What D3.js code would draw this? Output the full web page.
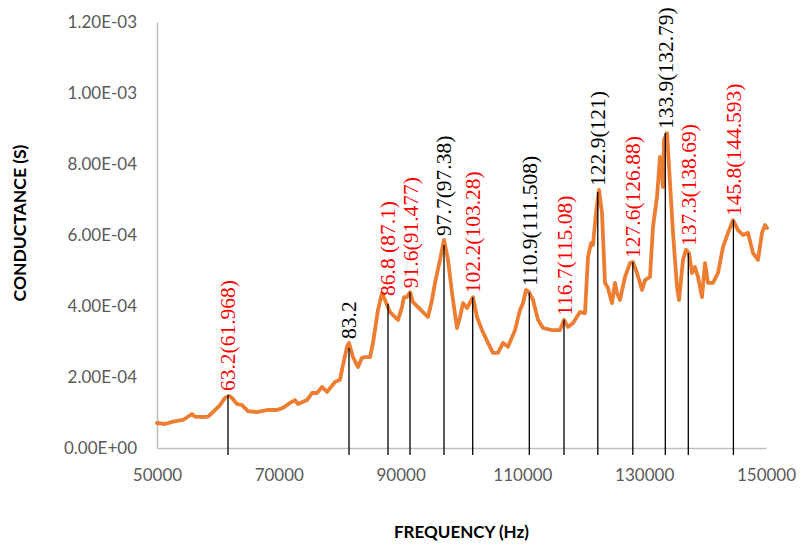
<!DOCTYPE html>
<html>
<head>
<meta charset="utf-8">
<script src="https://cdnjs.cloudflare.com/ajax/libs/d3/7.8.5/d3.min.js"></script>
<style>
  html, body { margin: 0; padding: 0; background: #fff; }
  svg { display: block; }
</style>
</head>
<body>
<svg id="chart" width="801" height="547"></svg>
<script>
// ---- data ----
const freq = [50000,51314,52627,54269,55747,56240,57553,58374,59031,60345,61166,61822,62315,63136,63957,64943,66420,68062,69704,70690,71839,72660,73153,74631,75452,76273,77094,77915,79228,80049,80542,81199,81527,82184,83005,83662,84154,84975,85468,86289,86945,87438,88259,89573,90230,90558,91051,91544,92036,92857,93678,94499,95156,95649,96470,97126,97783,98440,99261,99754,100246,100903,101888,102545,103366,104351,105172,105993,106814,107635,108785,109606,110099,110591,111084,111741,112562,113383,114860,116174,116831,117488,118309,119458,120279,120772,121264,121593,122085,122578,123071,123563,124056,124713,125205,125534,126026,126847,127668,128161,128818,129639,130131,130952,131445,132102,132594,133087,133251,133744,134236,134729,135386,135714,136371,136864,137356,137849,138342,138834,139491,139984,140476,141297,142118,142939,143760,144581,145402,146223,147044,147865,148686,149343,149836,150164];
const conductance = [7.04e-5,6.76e-5,7.41e-5,7.89e-5,9.58e-5,8.82e-5,8.73e-5,8.82e-5,9.86e-5,1.21e-4,1.41e-4,1.47e-4,1.41e-4,1.24e-4,1.21e-4,1.04e-4,1.01e-4,1.07e-4,1.07e-4,1.13e-4,1.27e-4,1.35e-4,1.24e-4,1.35e-4,1.55e-4,1.55e-4,1.72e-4,1.58e-4,1.86e-4,1.92e-4,2.34e-4,2.85e-4,2.96e-4,2.56e-4,2.28e-4,2.54e-4,2.56e-4,2.56e-4,2.96e-4,3.89e-4,4.37e-4,4.17e-4,3.83e-4,3.61e-4,3.97e-4,4.25e-4,4.25e-4,4.39e-4,4.11e-4,3.97e-4,3.83e-4,3.69e-4,4.17e-4,4.65e-4,5.30e-4,5.86e-4,5.30e-4,4.37e-4,3.38e-4,3.69e-4,4.08e-4,3.94e-4,4.25e-4,3.69e-4,3.32e-4,2.96e-4,2.68e-4,2.68e-4,2.96e-4,2.85e-4,3.32e-4,3.89e-4,4.08e-4,4.45e-4,4.39e-4,4.17e-4,3.61e-4,3.38e-4,3.32e-4,3.32e-4,3.61e-4,3.41e-4,3.52e-4,3.83e-4,3.80e-4,5.38e-4,5.77e-4,5.72e-4,6.62e-4,7.27e-4,6.62e-4,4.65e-4,4.51e-4,4.08e-4,4.65e-4,4.37e-4,4.17e-4,4.82e-4,5.21e-4,5.24e-4,4.93e-4,4.45e-4,4.73e-4,4.82e-4,6.23e-4,7.07e-4,8.20e-4,7.35e-4,8.68e-4,8.87e-4,7.46e-4,6.06e-4,4.54e-4,4.17e-4,5.30e-4,5.58e-4,5.49e-4,4.93e-4,5.10e-4,4.82e-4,4.25e-4,5.21e-4,4.65e-4,4.65e-4,4.93e-4,5.66e-4,6.06e-4,6.42e-4,6.14e-4,6.00e-4,6.06e-4,5.49e-4,5.30e-4,6.06e-4,6.28e-4,6.20e-4];

// resonance marker lines: frequency and marker top value
const markerFreq = [61658,81527,87931,91544,97126,101839,111134,116831,122381,128128,133465,137241,144647];
const markerTop  = [1.49e-4,2.82e-4,4.06e-4,4.39e-4,5.72e-4,4.25e-4,4.37e-4,3.61e-4,7.21e-4,5.24e-4,8.87e-4,5.49e-4,6.42e-4];
const markerLabels = ["63.2(61.968)","83.2","86.8 (87.1)","91.6(91.477)","97.7(97.38)","102.2(103.28)","110.9(111.508)","116.7(115.08)","122.9(121)","127.6(126.88)","133.9(132.79)","137.3(138.69)","145.8(144.593)"];
const markerIsCalc = [true,false,true,true,false,true,false,true,false,true,false,true,true];

const xTicks = [50000,70000,90000,110000,130000,150000];
const yTicks = [0,2e-4,4e-4,6e-4,8e-4,1e-3,1.2e-3];
const yTickLabels = ["0.00E+00","2.00E-04","4.00E-04","6.00E-04","8.00E-04","1.00E-03","1.20E-03"];
const xTitle = "FREQUENCY (Hz)";
const yTitle = "CONDUCTANCE (S)";

// ---- layout ----
const svg = d3.select("#chart");
const pL = 157, pR = 766, pT = 22, pB = 448;
const x = d3.scaleLinear().domain([50000,150000]).range([pL,pR]);
const y = d3.scaleLinear().domain([0,1.2e-3]).range([pB,pT]);

const tickFont = "Lato, 'Open Sans', sans-serif";

// y axis
const yAxis = d3.axisLeft(y).tickValues(yTicks).tickSize(0).tickPadding(20)
  .tickFormat((d,i) => yTickLabels[i]);
const gy = svg.append("g").attr("transform", `translate(${pL},0)`).call(yAxis);
gy.select(".domain").attr("stroke", "#BFBFBF").attr("stroke-width", 1.5);
gy.selectAll("text").attr("font-family", tickFont).attr("font-size", 17).attr("fill", "#595959");

// x axis
const xAxis = d3.axisBottom(x).tickValues(xTicks).tickSize(0).tickPadding(21)
  .tickFormat(d3.format("d"));
const gx = svg.append("g").attr("transform", `translate(0,${pB})`).call(xAxis);
gx.select(".domain").attr("stroke", "#BFBFBF").attr("stroke-width", 1.5);
gx.selectAll("text").attr("font-family", tickFont).attr("font-size", 17).attr("fill", "#595959");

// curve
const pts = freq.map((f,i) => [f, conductance[i]]);
svg.append("path").datum(pts)
  .attr("fill", "none").attr("stroke", "#ED7D31").attr("stroke-width", 3.8)
  .attr("stroke-linejoin", "round").attr("stroke-linecap", "round")
  .attr("d", d3.line().x(d => x(d[0])).y(d => y(d[1])));

// marker lines
svg.append("g").selectAll("line").data(markerFreq).join("line")
  .attr("x1", d => x(d)).attr("x2", d => x(d))
  .attr("y1", (d,i) => y(markerTop[i])).attr("y2", pB + 7)
  .attr("stroke", "#000").attr("stroke-width", 1.3);

// labels: start just above the local curve maximum
function localMax(f) {
  let m = 0;
  pts.forEach(p => { if (Math.abs(x(p[0]) - x(f)) <= 6 && p[1] > m) m = p[1]; });
  return m;
}
svg.append("g").selectAll("text").data(markerFreq).join("text")
  .attr("transform", (d,i) => `translate(${x(d)},${Math.min(y(localMax(d)), y(markerTop[i])) - 4}) rotate(-90)`)
  .attr("y", 7.5)
  .attr("font-family", "'Liberation Serif', 'Times New Roman', serif")
  .attr("font-size", 21.5)
  .attr("fill", (d,i) => markerIsCalc[i] ? "#FF0000" : "#000")
  .text((d,i) => markerLabels[i]);

// axis titles
svg.append("text").attr("x", (pL+pR)/2).attr("y", 538)
  .attr("text-anchor", "middle").attr("font-family", tickFont).attr("font-weight", "bold")
  .attr("font-size", 17).attr("fill", "#000").text(xTitle);
svg.append("text").attr("transform", `translate(26,${(pT+pB)/2 - 12}) rotate(-90)`)
  .attr("text-anchor", "middle").attr("font-family", tickFont).attr("font-weight", "bold")
  .attr("font-size", 17.5).attr("fill", "#000").text(yTitle);
</script>
</body>
</html>
